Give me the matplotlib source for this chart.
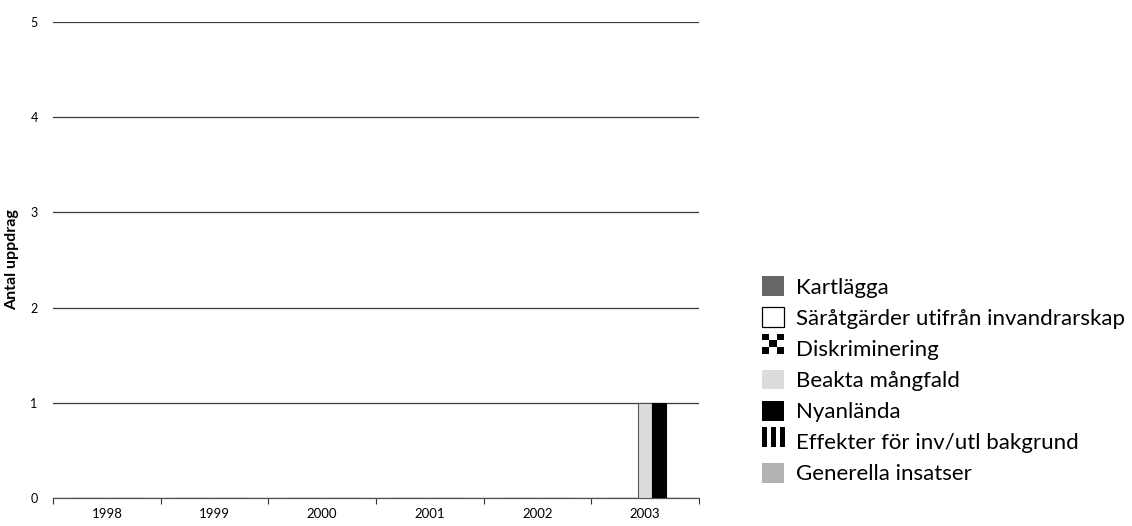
import numpy as np
import matplotlib
matplotlib.use("Agg")
import matplotlib.pyplot as plt
from matplotlib.patches import Rectangle

plt.rcParams['font.family'] = ['Lato', 'DejaVu Sans']

# data
years = ['1998', '1999', '2000', '2001', '2002', '2003']
kartlagga = [0, 0, 0, 0, 0, 0]
saratgarder = [0, 0, 0, 0, 0, 0]
diskriminering = [0, 0, 0, 0, 0, 0]
beakta = [0, 0, 0, 0, 0, 1]
nyanlanda = [0, 0, 0, 0, 0, 1]
effekter = [0, 0, 0, 0, 0, 0]
generella = [0, 0, 0, 0, 0, 0]

namn = ['Kartlägga', 'Säråtgärder utifrån invandrarskap', 'Diskriminering',
        'Beakta mångfald', 'Nyanlända', 'Effekter för inv/utl bakgrund',
        'Generella insatser']
serier = [kartlagga, saratgarder, diskriminering, beakta, nyanlanda, effekter, generella]
farger = ['#666666', 'white', 'white', '#dcdcdc', 'black', 'white', '#b2b2b2']
kanter = ['#666666', 'black', 'black', '#555555', 'black', 'black', '#b2b2b2']


# egna symboler for legenden
class Rutor:
    def legend_artist(self, legend, orig, fontsize, handlebox):
        x0, y0 = handlebox.xdescent, handlebox.ydescent
        w, h = handlebox.width, handlebox.height
        n = 3
        for i in range(n):
            for j in range(n):
                c = 'black' if (i + j) % 2 == 0 else 'white'
                r = Rectangle((x0 + i * w / n, y0 + j * h / n), w / n, h / n,
                              facecolor=c, edgecolor='none',
                              transform=handlebox.get_transform())
                handlebox.add_artist(r)
        return r


class Rander:
    def legend_artist(self, legend, orig, fontsize, handlebox):
        x0, y0 = handlebox.xdescent, handlebox.ydescent
        w, h = handlebox.width, handlebox.height
        n = 5
        for i in range(n):
            if i % 2 == 0:
                r = Rectangle((x0 + i * w / n, y0), w / n * 1.15, h,
                              facecolor='black', edgecolor='none',
                              transform=handlebox.get_transform())
                handlebox.add_artist(r)
        return r


fig = plt.figure(figsize=(11.32, 5.26), dpi=100)
ax = fig.add_axes([0.0468, 0.0532, 0.5707, 0.9049])

x = np.arange(len(years))
bredd = 0.13
for k, (s, fc, ec) in enumerate(zip(serier, farger, kanter)):
    ax.bar(x + (k - 3) * bredd, s, bredd, facecolor=fc, edgecolor=ec,
           linewidth=0.8, zorder=3)

ax.set_xlim(-0.5, 5.5)
ax.set_ylim(0, 5)
ax.set_yticks(range(6))
ax.yaxis.grid(True, color='#3a3a3a', linewidth=0.9)
ax.set_axisbelow(True)
ax.tick_params(axis='y', length=0, labelsize=9, pad=11)
ax.set_xticks(x)
ax.set_xticklabels(years)
ax.set_xticks(np.arange(-0.5, 6, 1), minor=True)
ax.tick_params(axis='x', which='major', length=0, labelsize=9.5, pad=7)
ax.tick_params(axis='x', which='minor', length=4, width=0.8, color='#333333')
for side in ['left', 'right', 'top']:
    ax.spines[side].set_visible(False)
ax.spines['bottom'].set_color('#555555')
ax.spines['bottom'].set_linewidth(0.9)
ax.set_ylabel('Antal uppdrag', fontsize=11.5, fontweight='bold', labelpad=8)

# legendsymboler
symboler = []
for k in range(len(namn)):
    ec = 'black' if farger[k] == 'white' else 'none'
    symboler.append(Rectangle((0, 0), 1, 1, facecolor=farger[k], edgecolor=ec, linewidth=0.9))
hmap = {symboler[2]: Rutor(), symboler[5]: Rander()}
fig.legend(symboler, namn, loc='center left', bbox_to_anchor=(0.673, 0.277),
           frameon=False, fontsize=16, handlelength=1.0, handleheight=1.0,
           handletextpad=0.55, labelspacing=0.43, borderpad=0, borderaxespad=0,
           handler_map=hmap)

fig.savefig('out.png', dpi=100)
